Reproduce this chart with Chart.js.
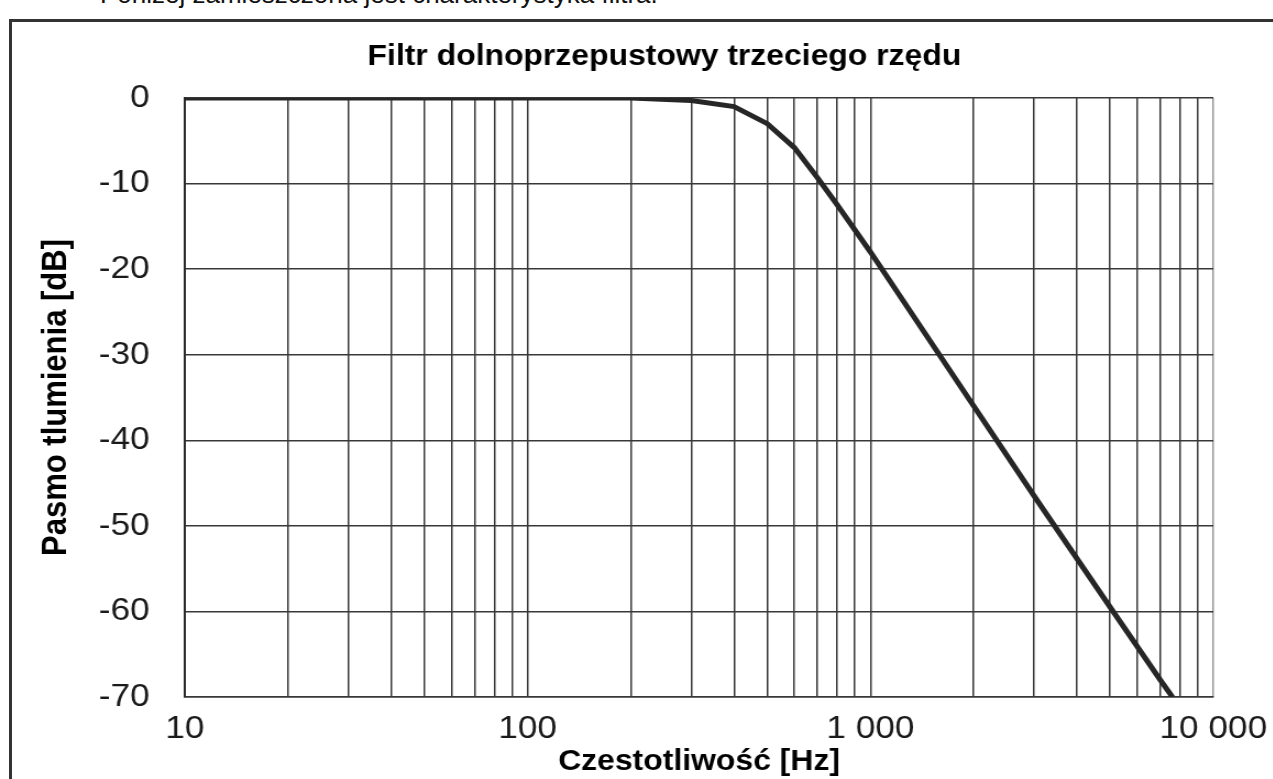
<!DOCTYPE html>
<html>
<head>
<meta charset="utf-8">
<script src="https://cdn.jsdelivr.net/npm/chart.js@4"></script>
<style>
  html, body { margin: 0; padding: 0; background: #fff; overflow: hidden; }
  #intro {
    position: absolute; left: 100px; top: -19px;
    font: 26px "Liberation Sans", Arial, sans-serif; line-height: 26px;
    color: #111; white-space: nowrap;
  }
  #frame {
    position: absolute; left: 9px; top: 19px; width: 1400px; height: 900px;
    border: 3px solid #333;
  }
  /* the scan is a bit wider than tall, so stretch the canvas sideways */
  #graph {
    position: absolute; left: 0; top: 0;
    transform: scaleX(1.1); transform-origin: 0 0;
  }
</style>
</head>
<body>
<div id="intro">Poniżej zamieszczona jest charakterystyka filtra.</div>
<div id="frame"></div>
<canvas id="graph" width="1158" height="779"></canvas>
<script>
// values
const freqs = [10, 20, 50, 100, 200, 300, 400, 500, 600, 700, 800, 1000, 2000, 3000, 5000, 7000, 7600];
const gains = [0, 0, 0, 0, 0, -0.3, -1, -3, -5.8, -9.3, -12.5, -18, -36, -46.5, -59.5, -68, -70];

// x grid: every 1..9 step of each decade
const xTicks = [10, 20, 30, 40, 50, 60, 70, 80, 90,
                100, 200, 300, 400, 500, 600, 700, 800, 900,
                1000, 2000, 3000, 4000, 5000, 6000, 7000, 8000, 9000, 10000];
const xLabels = {10: '10', 100: '100', 1000: '1 000', 10000: '10 000'};

const chartTitle = 'Filtr dolnoprzepustowy trzeciego rzędu';
const xTitle = 'Czestotliwość [Hz]';
const yTitle = 'Pasmo tlumienia [dB]';

const FONT = '"Liberation Sans", Arial, sans-serif';

// main title sits a bit right of the canvas middle, so draw it by hand
const titlePlugin = {
    id: 'topTitle',
    afterDraw(chart) {
        const ctx = chart.ctx;
        ctx.save();
        ctx.font = 'bold 29px ' + FONT;
        ctx.fillStyle = '#000';
        ctx.textAlign = 'center';
        ctx.textBaseline = 'middle';
        ctx.fillText(chartTitle, 604, 57);
        ctx.restore();
    }
};

const data = freqs.map((f, i) => ({x: f, y: gains[i]}));

new Chart(document.getElementById('graph'), {
    type: 'line',
    data: {
        datasets: [{
            label: chartTitle,
            data: data,
            borderColor: '#262626',
            borderWidth: 5,
            pointRadius: 0,
            tension: 0,
            fill: false
        }]
    },
    options: {
        responsive: false,
        animation: false,
        layout: {padding: {top: 98, left: 0, right: 55, bottom: 0}},
        plugins: {
            legend: {display: false},
            tooltip: {enabled: false}
        },
        scales: {
            x: {
                type: 'logarithmic',
                min: 10,
                max: 10000,
                afterBuildTicks: (scale) => { scale.ticks = xTicks.map(v => ({value: v})); },
                afterFit: (scale) => {
                    scale.height = 82;
                    // let the "10 000" label hang into the right margin
                    scale.paddingRight = 0;
                },
                ticks: {
                    autoSkip: false,
                    maxRotation: 0,
                    padding: 13,
                    color: '#1a1a1a',
                    font: {family: FONT, size: 32},
                    callback: (v) => xLabels[v] ?? ''
                },
                grid: {
                    drawTicks: false,
                    color: (c) => c.tick && c.tick.value === 10000 ? '#9a9a9a' : '#383838',
                    lineWidth: 1.5
                },
                border: {color: '#383838', width: 1.5},
                title: {
                    display: true,
                    text: xTitle,
                    color: '#000',
                    font: {family: FONT, size: 29, weight: 'bold'},
                    padding: {top: 0, bottom: 0}
                }
            },
            y: {
                min: -70,
                max: 0,
                afterFit: (scale) => { scale.width = 168; },
                ticks: {
                    stepSize: 10,
                    padding: 32,
                    color: '#1a1a1a',
                    font: {family: FONT, size: 32}
                },
                grid: {drawTicks: false, color: '#383838', lineWidth: 1.5},
                border: {color: '#2a2a2a', width: 2},
                title: {
                    display: true,
                    text: yTitle,
                    color: '#000',
                    font: {family: FONT, size: 31, weight: 'bold'},
                    padding: {top: 33, bottom: 0}
                }
            }
        }
    },
    plugins: [titlePlugin]
});
</script>
</body>
</html>
